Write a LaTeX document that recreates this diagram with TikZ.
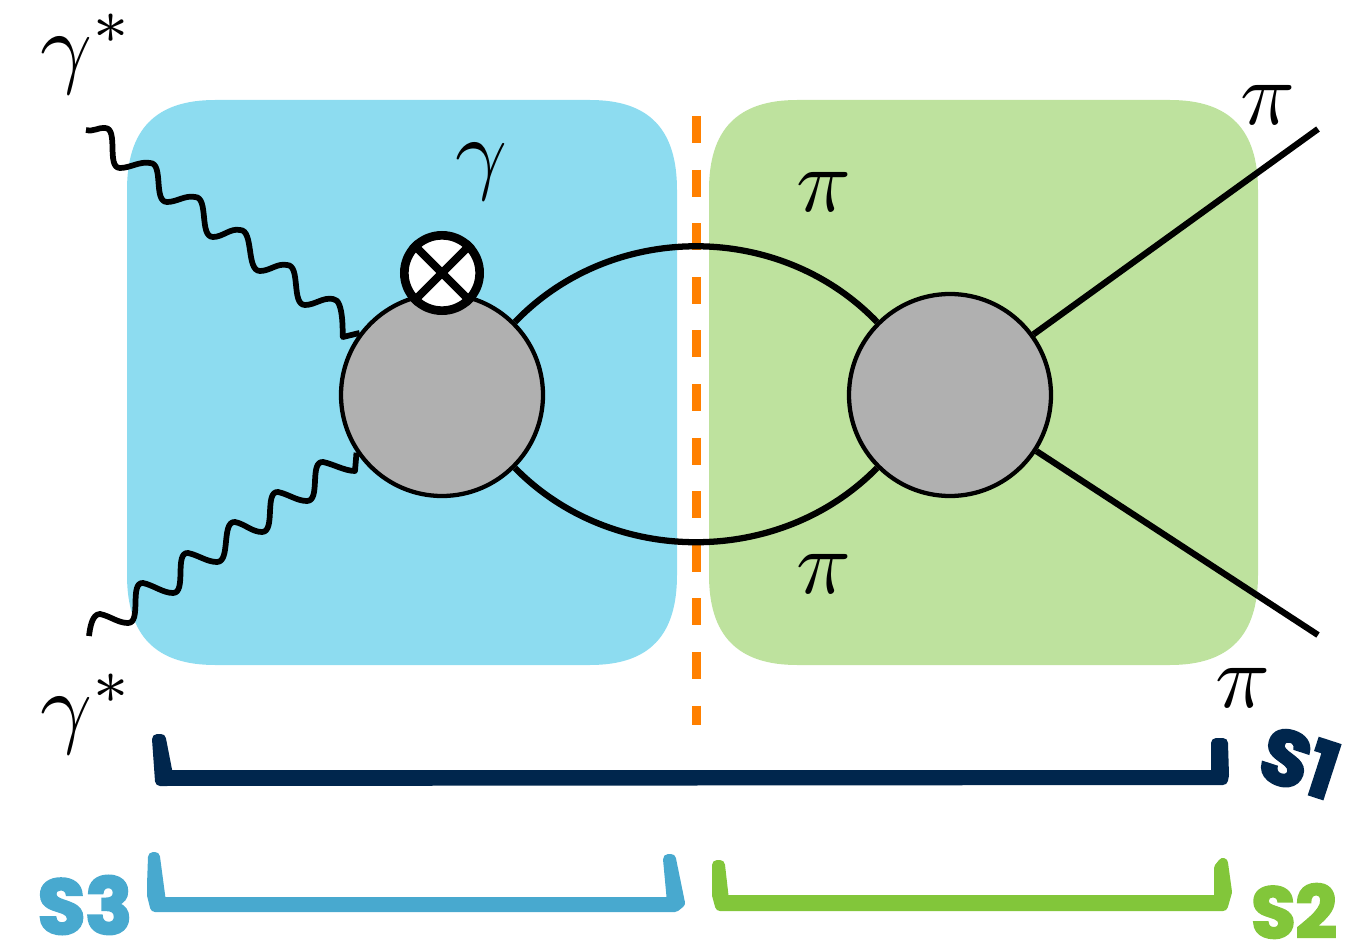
\documentclass[tikz,border=0pt]{standalone}
\usepackage{fontspec}
\newfontfamily\handfont[RawFeature={embolden=3.5}]{Poppins}
\definecolor{bluebox}{HTML}{8DDCF0}
\definecolor{greenbox}{HTML}{BEE29E}
\definecolor{blobgray}{HTML}{B0B0B0}
\definecolor{cutorange}{HTML}{FF8000}
\definecolor{navy}{HTML}{00264D}
\definecolor{sblue}{HTML}{48A9CF}
\definecolor{sgreen}{HTML}{82C63A}
\tikzset{
  blob/.style={circle,draw=black,fill=blobgray,line width=3.2pt,minimum size=151.5pt,inner sep=0pt},
  crossnode/.style={circle,draw=black,fill=white,line width=6.5pt,minimum size=56.5pt,inner sep=0pt},
  crossbar/.style={line width=6pt,black},
  pionline/.style={line width=4.7pt,black},
  wave/.style={line width=4.3pt,black,line join=round},
  cut/.style={line width=6.75pt,cutorange,dash pattern=on 20.2pt off 20pt},
  mlabel/.style={inner sep=0pt,scale=6.8},
  slabel/.style={inner sep=0pt,font=\handfont\bfseries\fontsize{58}{58}\selectfont},
  bracket/.style={line width=7.5pt,line join=round}
}
\begin{document}
\begin{tikzpicture}[x=0.75pt,y=-0.75pt]
\useasboundingbox (0,0) rectangle (1347,945);
\clip (0,0) rectangle (1347,945);
% boxes
\fill[bluebox] (127,190) .. controls (127,130) and (155,100) .. (215,100) -- (590,100)
  .. controls (650,100) and (677,130) .. (677,190) -- (677,575)
  .. controls (677,635) and (650,665) .. (590,665) -- (215,665)
  .. controls (155,665) and (127,635) .. (127,575) -- cycle;
\fill[greenbox] (709,190) .. controls (709,130) and (737,100) .. (797,100) -- (1170,100)
  .. controls (1230,100) and (1258,130) .. (1258,190) -- (1258,575)
  .. controls (1258,635) and (1230,665) .. (1170,665) -- (797,665)
  .. controls (737,665) and (709,635) .. (709,575) -- cycle;
% cut
\coordinate (cutTop) at (696,116);
\coordinate (cutBot) at (696,725);
\draw[cut] (cutTop) -- (cutBot);
% blobs
\node[blob] (blobL) at (442,395) {};
\node[blob] (blobR) at (950,395) {};
\node[crossnode] (insert) at (442,273) {};
\draw[crossbar] (insert.45) -- (insert.-135);
\draw[crossbar] (insert.135) -- (insert.-45);
% pion loop
\draw[pionline] (blobL.45) .. controls (612,221) and (780,221) .. (blobR.135);
\draw[pionline] (blobL.-45) .. controls (612,567) and (780,567) .. (blobR.-135);
% outgoing pions
\coordinate (outA) at (1318,129);
\coordinate (outB) at (1318,635);
\draw[pionline] (blobR.36) -- (outA);
\draw[pionline] (blobR.-33.4) -- (outB);
% photons
\coordinate (phA) at (86,130);
\coordinate (phB) at (89,636);
\draw[wave] (phA) .. controls +(8,2) and +(-6,-1) .. (105,128)
  .. controls +(14,0) and +(-14,0) .. (120,168)
  .. controls +(10,0) and +(-10,-2) .. (150,163)
  .. controls +(14,0) and +(-14,0) .. (167,202)
  .. controls +(10,0) and +(-10,-2) .. (195,197)
  .. controls +(14,0) and +(-14,0) .. (213,237)
  .. controls +(10,0) and +(-10,-2) .. (240,230)
  .. controls +(14,0) and +(-14,0) .. (260,271)
  .. controls +(10,0) and +(-10,-2) .. (287,265)
  .. controls +(14,0) and +(-14,0) .. (305,305)
  .. controls +(10,0) and +(-10,-2) .. (333,299)
  .. controls +(12,0) and +(-1,3) .. (343,337)
  -- (blobL.143);
\draw[wave] (phB) .. controls +(1,-8) and +(-8,0) .. (100,614)
  .. controls +(10,2) and +(-10,0) .. (128,623)
  .. controls +(14,0) and +(-14,-1) .. (143,583)
  .. controls +(10,2) and +(-10,0) .. (173,593)
  .. controls +(14,0) and +(-14,-1) .. (188,553)
  .. controls +(10,2) and +(-10,0) .. (217,562)
  .. controls +(14,0) and +(-14,-1) .. (235,522)
  .. controls +(10,2) and +(-10,0) .. (262,532)
  .. controls +(14,0) and +(-14,-1) .. (278,492)
  .. controls +(10,2) and +(-10,0) .. (307,501)
  .. controls +(14,0) and +(-14,-1) .. (323,462)
  .. controls +(10,2) and +(-10,0) .. (355,471)
  -- (blobL.214);
% labels
\node[mlabel] (g1) at (87,54) {$\gamma^*$};
\node[mlabel] (g2) at (87,714) {$\gamma^*$};
\node[mlabel] (g3) at (481,172) {$\gamma$};
\node[mlabel] (p1) at (1268,105) {$\pi$};
\node[mlabel] (p2) at (824,192) {$\pi$};
\node[mlabel] (p3) at (824,574) {$\pi$};
\node[mlabel] (p4) at (1243,688) {$\pi$};
% brackets
\filldraw[navy,bracket] (157,739) -- (161,739) -- (168,775) -- (1216,775) -- (1216,743) -- (1223,743) -- (1224,775) -- (1223,780) -- (163,781) -- (160,781) -- cycle;
\filldraw[sblue,bracket] (153,857) -- (155,857) -- (161,902) -- (672,902) -- (668,859) -- (671,859) -- (680,903) -- (675,907) -- (155,907) -- (152,895) -- (152,885) -- cycle;
\filldraw[sgreen,bracket] (717,865) -- (720,865) -- (724,900) -- (1219,900) -- (1219,868) -- (1223,863) -- (1227,892) -- (1223,906) -- (720,906) -- (717,895) -- cycle;
% bracket names
\node[slabel,navy,rotate=-18] (s1) at (1300,762) {S1};
\node[slabel,sblue] (s3) at (85,905) {S3};
\node[slabel,sgreen,scale=0.93] (s2) at (1294,911) {S2};
\end{tikzpicture}
\end{document}
